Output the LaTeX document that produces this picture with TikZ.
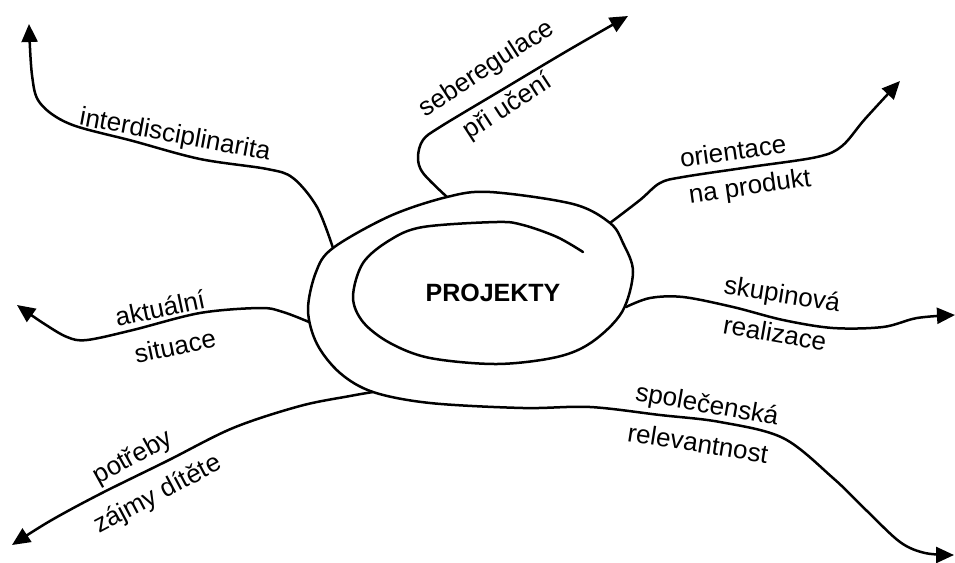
\documentclass[tikz,border=0pt]{standalone}
\usepackage{fontspec}
\setmainfont{Liberation Sans}
\usetikzlibrary{arrows.meta}
\tikzset{
  line/.style={line width=2.5pt, line cap=round, line join=round},
  arr/.style={line, -{Triangle[length=18pt,width=16pt]}},
  lbl/.style={inner sep=0pt, font=\fontsize{26}{30}\selectfont},
  title/.style={inner sep=0pt, font=\fontsize{25}{30}\selectfont\bfseries}
}
\begin{document}
\begin{tikzpicture}[x=1pt,y=-1pt]
\useasboundingbox (0,0) rectangle (955,562);
% attach points and tips
\coordinate (inner) at (583,252);
\coordinate (aInt) at (333,248);
\coordinate (aSeb) at (447,197);
\coordinate (aOri) at (610,223);
\coordinate (aSku) at (626,307);
\coordinate (aAkt) at (309,322);
\coordinate (aPot) at (373,392);
\coordinate (tInt) at (29,24);
\coordinate (tSeb) at (628,16);
\coordinate (tOri) at (900,81);
\coordinate (tSku) at (955,315);
\coordinate (tSpo) at (954,555);
\coordinate (tAkt) at (17,305);
\coordinate (tPot) at (12,545);

% spiral continuing into "společenská relevantnost"
\draw[arr] plot[smooth, tension=0.55] coordinates {
  (inner) (557,237) (523,225) (497,222) (423,227) (390,240) (363,263)
  (353,297) (363,322) (390,343) (430,358) (497,364) (557,357) (592,342)
  (622,312) (633,272) (623,243) (aOri) (573,204) (490,192)
  (aSeb) (390,216) (aInt) (316,272) (308,310) (317,344) (340,373) (aPot)
  (430,403) (523,408) (590,407) (660,415) (720,422) (783,438)
  (833,478) (867,511) (900,542) (925,553) (tSpo)};

% branches
\draw[arr] plot[smooth, tension=0.55] coordinates {
  (aInt) (317,207) (293,178) (267,169) (200,159) (133,141) (70,124) (40,103) (32,75) (tInt)};
\draw[arr] plot[smooth, tension=0.55] coordinates {
  (aSeb) (423,173) (418,157) (423,140) (440,127) (500,91) (567,51) (tSeb)};
\draw[arr] plot[smooth, tension=0.55] coordinates {
  (aOri) (640,200) (660,183) (683,177) (750,167) (817,157) (842,146) (865,119) (tOri)};
\draw[arr] plot[smooth, tension=0.55] coordinates {
  (aSku) (650,298) (683,297) (733,307) (783,320) (833,328) (883,327) (917,318) (tSku)};
\draw[arr] plot[smooth, tension=0.55] coordinates {
  (aAkt) (283,312) (260,308) (200,313) (133,330) (87,340) (67,337) (43,323) (tAkt)};
\draw[arr] plot[smooth, tension=0.55] coordinates {
  (aPot) (350,396) (300,406) (233,428) (167,461) (100,494) (50,521) (tPot)};

% labels
\node[title] (proj) at (493,293) {PROJEKTY};
\node[lbl, rotate=-10.5] (l1) at (175,136) {interdisciplinarita};
\node[lbl, rotate=33] (l2) at (487,69) {seberegulace};
\node[lbl, rotate=33] (l3) at (508,107) {při učení};
\node[lbl, rotate=8] (l4) at (733,151) {orientace};
\node[lbl, rotate=8] (l5) at (750,188) {na produkt};
\node[lbl, rotate=-9] (l6) at (782,296) {skupinová};
\node[lbl, rotate=-10] (l7) at (775,333) {realizace};
\node[lbl, rotate=-10] (l8) at (707,406) {společenská};
\node[lbl, rotate=-9] (l9) at (698,443) {relevantnost};
\node[lbl, rotate=12] (l10) at (160,308) {aktuální};
\node[lbl, rotate=12] (l11) at (175,346) {situace};
\node[lbl, rotate=29] (l12) at (133,458) {potřeby};
\node[lbl, rotate=28] (l13) at (158,495) {zájmy dítěte};
\end{tikzpicture}
\end{document}
